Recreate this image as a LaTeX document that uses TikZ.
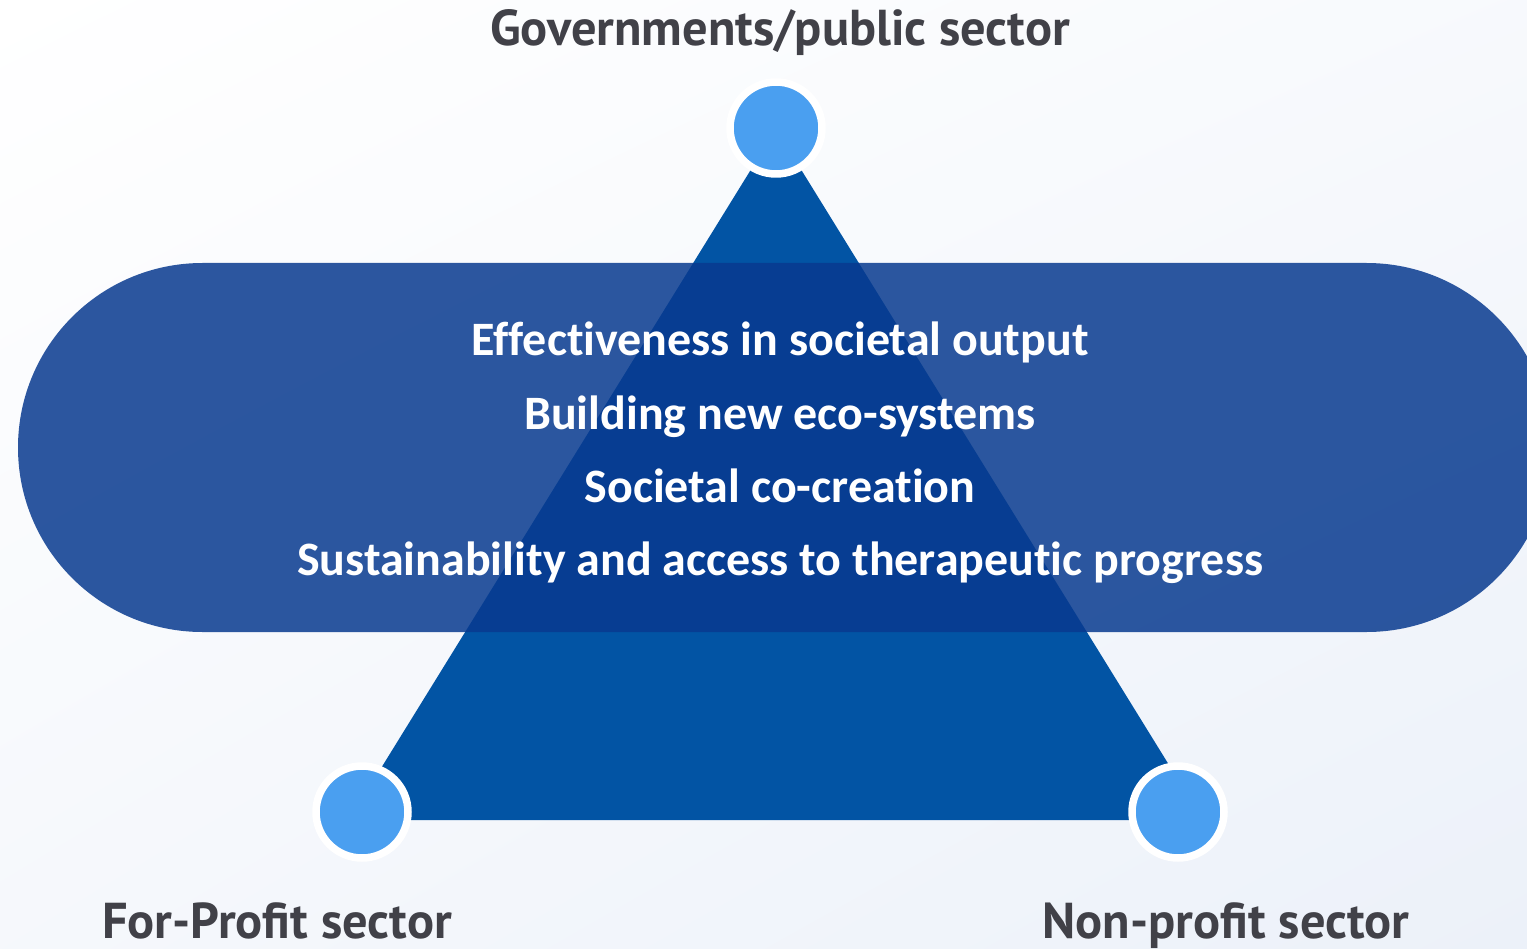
\documentclass[tikz,border=0pt]{standalone}
\usepackage{fontspec}
\usetikzlibrary{shadings}
\setmainfont{Carlito}[Ligatures=CommonOff]
\newfontfamily\labelfont{PT Sans}
\definecolor{triblue}{RGB}{2,84,164}
\definecolor{bandblue}{RGB}{8,58,143}
\definecolor{dotblue}{RGB}{74,159,240}
\definecolor{labelgray}{RGB}{65,65,72}
\definecolor{bgblue}{RGB}{236,241,249}
\begin{document}
\begin{tikzpicture}[x=0.02cm, y=-0.02cm,
    dot/.style={circle, fill=dotblue, draw=white, line width=0.15cm, minimum size=1.84cm, inner sep=0pt},
    sector/.style={font=\labelfont\bfseries\fontsize{28.7}{32}\selectfont, text=labelgray, anchor=base},
    goal/.style={font=\bfseries\fontsize{27.3}{30}\selectfont, text=white, anchor=base}]
                    \useasboundingbox (0,0) rectangle (1527,949);
                    \clip (0,0) rectangle (1527,949);
                    \shade[upper left=white, upper right=bgblue!40, lower left=bgblue!50, lower right=bgblue] (0,0) rectangle (1527,949);

                    \fill[triblue] (776,129) -- (1203,820) -- (349,820) -- cycle;
                    \fill[bandblue, opacity=0.85, rounded corners=3.69cm] (18,263) rectangle (1551,632);

                    \node[dot] (gov) at (776,128) {};
                    \node[dot] (forprofit) at (362,812) {};
                    \node[dot] (nonprofit) at (1178,812) {};

                    \node[sector] (govlabel) at (780,46) {Governments/public sector};
                    \node[sector] (forlabel) at (277,938) {For-Profit sector};
                    \node[sector] (nonlabel) at (1226,938) {Non-profit sector};

                    \node[goal] (g1) at (780,356) {Effectiveness in societal output};
                    \node[goal] (g2) at (780,429) {Building new eco-systems};
                    \node[goal] (g3) at (780,502) {Societal co-creation};
                    \node[goal] (g4) at (780,575) {Sustainability and access to therapeutic progress};
                \end{tikzpicture}
\end{document}
